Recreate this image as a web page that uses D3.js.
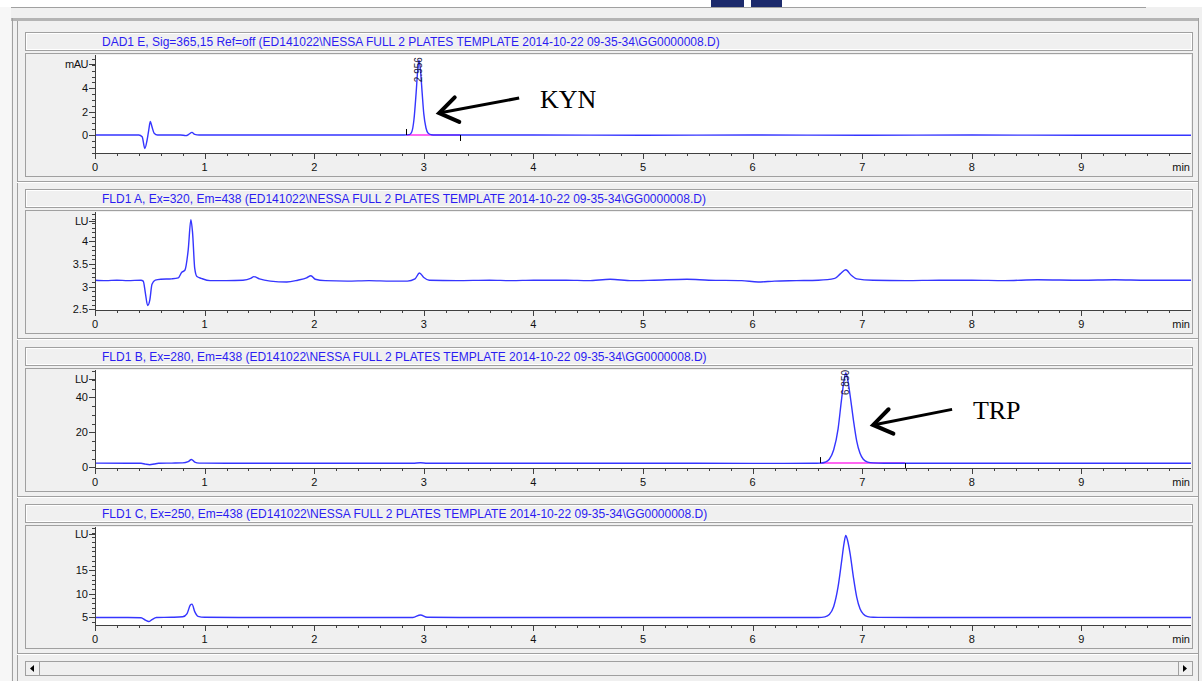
<!DOCTYPE html>
<html>
<head>
<meta charset="utf-8">
<script src="https://cdn.jsdelivr.net/npm/d3@7"></script>
<style>
  body { margin: 0; background: #f0f0f0; }
  svg  { display: block; font-family: "Liberation Sans", Arial, sans-serif; }
</style>
</head>
<body>
<svg width="1202" height="681"></svg>
<script>
// traces, [time (min), response]
const dadE = [[0,0],[0.2,0],[0.40,0],[0.43,-0.15],[0.455,-1.15],[0.475,-0.45],[0.49,0.4],[0.505,1.15],[0.52,0.7],
  [0.54,0.15],[0.57,0],[0.78,0],[0.83,-0.05],[0.855,0.05],[0.885,0.22],[0.91,0.05],[0.95,0],[1.5,0],[2.0,0],[2.5,0],
  [2.82,0],[2.87,0.03],[2.89,0.25],[2.91,1.3],[2.93,3.6],[2.945,5.6],[2.956,6.4],[2.97,5.5],[2.985,3.6],[3.0,1.8],
  [3.02,0.6],[3.04,0.15],[3.07,0.02],[3.1,0],[4,0],[5,-0.02],[6,0],[7,-0.02],[8,0],[9,-0.02],[10,-0.02]];

const fldA = [[0,3.14],[0.1,3.13],[0.2,3.14],[0.3,3.13],[0.42,3.14],[0.44,3.12],[0.46,2.85],[0.48,2.58],[0.50,2.7],
  [0.52,3.05],[0.55,3.14],[0.6,3.16],[0.7,3.17],[0.76,3.19],[0.79,3.31],[0.82,3.36],[0.85,3.8],[0.875,4.48],[0.89,4.2],
  [0.91,3.4],[0.93,3.22],[0.97,3.18],[1.05,3.13],[1.2,3.13],[1.35,3.14],[1.42,3.18],[1.45,3.22],[1.50,3.17],[1.6,3.12],
  [1.75,3.1],[1.85,3.14],[1.93,3.19],[1.97,3.24],[2.01,3.16],[2.1,3.13],[2.3,3.12],[2.5,3.13],[2.7,3.12],[2.85,3.12],
  [2.92,3.17],[2.96,3.3],[3.0,3.2],[3.05,3.14],[3.3,3.13],[3.6,3.14],[3.8,3.13],[4.0,3.14],[4.3,3.14],[4.5,3.13],
  [4.7,3.16],[4.9,3.13],[5.1,3.14],[5.4,3.16],[5.6,3.14],[5.9,3.13],[6.05,3.1],[6.2,3.12],[6.4,3.13],[6.6,3.14],
  [6.75,3.18],[6.8,3.28],[6.85,3.37],[6.9,3.25],[6.95,3.17],[7.1,3.14],[7.4,3.13],[7.7,3.14],[8.0,3.14],[8.3,3.13],
  [8.6,3.15],[9.0,3.14],[9.3,3.15],[9.6,3.14],[10,3.14]];

const fldB = [[0,2.4],[0.3,2.35],[0.42,2.3],[0.46,1.8],[0.5,1.5],[0.54,1.9],[0.58,2.3],[0.7,2.4],[0.8,2.5],[0.85,3.2],
  [0.88,4.5],[0.91,3.0],[0.95,2.4],[1.2,2.3],[1.5,2.3],[2.0,2.35],[2.5,2.3],[2.9,2.3],[2.97,2.6],[3.03,2.3],[3.5,2.3],
  [4,2.3],[5,2.3],[6,2.25],[6.55,2.3],[6.62,2.4],[6.66,2.9],[6.70,4.6],[6.74,10],[6.78,22],[6.81,38],[6.835,50],
  [6.85,53.9],[6.865,51],[6.89,41],[6.92,27],[6.95,15],[6.98,8],[7.01,4.6],[7.05,3.0],[7.1,2.5],[7.2,2.35],[7.5,2.3],
  [8,2.3],[9,2.3],[10,2.3]];

const fldC = [[0,4.95],[0.3,4.95],[0.42,4.9],[0.46,4.4],[0.49,4.1],[0.52,4.5],[0.56,4.95],[0.7,5.0],[0.8,5.1],
  [0.84,5.8],[0.87,7.6],[0.885,7.8],[0.91,6.2],[0.94,5.2],[1.0,5.0],[1.5,4.95],[2.0,4.95],[2.5,4.95],[2.9,4.95],
  [2.97,5.5],[3.03,5.0],[3.5,4.95],[4,4.95],[5,4.95],[6,4.95],[6.6,4.95],[6.66,5.1],[6.70,5.6],[6.74,7.3],[6.78,11.5],
  [6.81,16.5],[6.835,20.8],[6.85,22.4],[6.865,21.5],[6.89,18.5],[6.92,13.5],[6.95,9.3],[6.98,6.8],[7.01,5.7],
  [7.05,5.15],[7.1,5.0],[7.5,4.95],[8,4.95],[9,4.95],[10,4.95]];

const traces  = [dadE, fldA, fldB, fldC];
const path    = "(ED141022\\NESSA FULL 2 PLATES TEMPLATE 2014-10-22 09-35-34\\GG0000008.D)";
const headers = ["DAD1 E, Sig=365,15 Ref=off " + path,
                 "FLD1 A, Ex=320, Em=438 " + path,
                 "FLD1 B, Ex=280, Em=438 " + path,
                 "FLD1 C, Ex=250, Em=438 " + path];
const units      = ["mAU", "LU", "LU", "LU"];
const yDomains   = [[-1.54, 6.84], [2.48, 4.65], [-0.4, 55.6], [3.36, 24.2]];
const yMajor     = [[0, 2, 4], [2.5, 3, 3.5, 4], [0, 20, 40], [5, 10, 15]];
const yMinorStep = [0.5, 0.1, 5, 1];
const unitAt     = [6.05, 4.45, 50.5, 22.8];
const xTickVals  = [0, 1, 2, 3, 4, 5, 6, 7, 8, 9];
const xTickLabels = ["0", "1", "2", "3", "4", "5", "6", "7", "8", "9"];

// integration events: panel, start/end of baseline, level, apex, retention time label
const peaks = [
  {panel: 0, start: 2.84, end: 3.33, level: 0,   apexT: 2.956, apexV: 6.4,  rt: "2.956"},
  {panel: 2, start: 6.615, end: 7.39, level: 2.4, apexT: 6.85, apexV: 53.9, rt: "6.850"}
];
// arrow annotations in data units
const notes = [
  {panel: 0, text: "KYN", tip: [3.14, 1.88], tail: [3.87, 3.16], at: [4.06, 2.3]},
  {panel: 2, text: "TRP", tip: [7.10, 24.2], tail: [7.82, 33.1], at: [8.01, 27.6]}
];

const svg = d3.select("svg");
const W = 1202, H = 681;

const grey  = "#a0a0a0";
const blue  = "#3535ff";

// ---- window chrome
svg.append("rect").attr("width", W).attr("height", H).attr("fill", "#f0f0f0");
svg.append("rect").attr("width", W).attr("height", 7).attr("fill", "#ffffff");
svg.append("rect").attr("x", 0).attr("y", 7).attr("width", 11).attr("height", H).attr("fill", "#f7f7f7");
svg.append("line").attr("x1", 11).attr("x2", 1146).attr("y1", 7.5).attr("y2", 7.5).attr("stroke", grey);
[[711, 33], [751, 31]].forEach(d => {
  svg.append("rect").attr("x", d[0]).attr("y", 0).attr("width", d[1]).attr("height", 7).attr("fill", "#1c2a6c");
});
svg.append("rect").attr("x", 11).attr("y", 18).attr("width", 1188).attr("height", 3).attr("fill", "#b4b4b4");
svg.append("line").attr("x1", 12.5).attr("x2", 12.5).attr("y1", 18).attr("y2", H).attr("stroke", grey);
svg.append("line").attr("x1", 17.5).attr("x2", 17.5).attr("y1", 21).attr("y2", H).attr("stroke", grey);
svg.append("line").attr("x1", 1198.5).attr("x2", 1198.5).attr("y1", 18).attr("y2", H).attr("stroke", grey);

const x = d3.scaleLinear().domain([0, 10]).range([95, 1191]);
const panelTops = [32, 189, 347, 504];

const line = d3.line().curve(d3.curveMonotoneX);

panelTops.forEach(function(top, i) {
  const g = svg.append("g");
  const frameTop = top + 21, plotTop = top + 23, axisY = top + 121, frameBot = top + 144;
  const y = d3.scaleLinear().domain(yDomains[i]).range([axisY, plotTop]);

  // header strip
  g.append("rect").attr("x", 25.5).attr("y", top + 0.5).attr("width", 1167).attr("height", 18)
    .attr("fill", "#f0f0f0").attr("stroke", grey);
  g.append("rect").attr("x", 26.5).attr("y", top + 1.5).attr("width", 1165).attr("height", 16)
    .attr("fill", "none").attr("stroke", "#ffffff");
  g.append("text").attr("x", 102).attr("y", top + 13.5).attr("font-size", 12)
    .attr("fill", "#2b1cf2").text(headers[i]);

  // plot frame
  g.append("rect").attr("x", 25.5).attr("y", frameTop + 0.5).attr("width", 1167).attr("height", frameBot - frameTop)
    .attr("fill", "#f0f0f0").attr("stroke", grey);
  g.append("rect").attr("x", 95).attr("y", plotTop).attr("width", 1096).attr("height", axisY - plotTop)
    .attr("fill", "#ffffff");

  // separator under the panel
  g.append("line").attr("x1", 17).attr("x2", 1198).attr("y1", top + 149.5).attr("y2", top + 149.5)
    .attr("stroke", grey);
  g.append("line").attr("x1", 17).attr("x2", 1198).attr("y1", top + 150.5).attr("y2", top + 150.5)
    .attr("stroke", "#ffffff");

  // integration baseline + event ticks
  peaks.filter(p => p.panel === i).forEach(function(p) {
    g.append("line").attr("x1", x(p.start)).attr("x2", x(p.end))
      .attr("y1", y(p.level)).attr("y2", y(p.level)).attr("stroke", "#ff33ee").attr("stroke-width", 1.5);
  });

  // trace
  g.append("path").datum(traces[i].map(d => [x(d[0]), y(d[1])]))
    .attr("d", line).attr("fill", "none").attr("stroke", blue).attr("stroke-width", 1.4);

  peaks.filter(p => p.panel === i).forEach(function(p) {
    const by = y(p.level);
    g.append("line").attr("x1", Math.round(x(p.start)) + 0.5).attr("x2", Math.round(x(p.start)) + 0.5)
      .attr("y1", by - 6).attr("y2", by).attr("stroke", "#000");
    g.append("line").attr("x1", Math.round(x(p.end)) + 0.5).attr("x2", Math.round(x(p.end)) + 0.5)
      .attr("y1", by).attr("y2", by + 6).attr("stroke", "#000");
    const ax = x(p.apexT), ay = y(p.apexV) - 3;
    g.append("text").attr("transform", `translate(${ax + 3.5},${ay}) rotate(-90)`)
      .attr("text-anchor", "end").attr("font-size", 10).attr("fill", "#1a1a40").text(p.rt);
  });

  // y axis
  const yAxisG = g.append("g").attr("stroke", "#404040");
  yAxisG.append("line").attr("x1", 95.5).attr("x2", 95.5).attr("y1", plotTop).attr("y2", axisY)
    .attr("stroke", "#404040");
  const minor = d3.range(Math.ceil(yDomains[i][0] / yMinorStep[i]), Math.floor(yDomains[i][1] / yMinorStep[i]) + 1)
    .map(k => +(k * yMinorStep[i]).toFixed(4));
  minor.forEach(v => {
    const yy = Math.round(y(v)) + 0.5;
    yAxisG.append("line").attr("x1", 92).attr("x2", 95).attr("y1", yy).attr("y2", yy);
  });
  yMajor[i].concat([unitAt[i]]).forEach(v => {
    const yy = Math.round(y(v)) + 0.5;
    yAxisG.append("line").attr("x1", 89).attr("x2", 95).attr("y1", yy).attr("y2", yy);
  });
  g.selectAll("text.ytick").data(yMajor[i]).enter().append("text")
    .attr("class", "ytick").attr("x", 88).attr("y", v => y(v) + 4)
    .attr("text-anchor", "end").attr("font-size", 11).attr("fill", "#111").text(v => v);
  g.append("text").attr("x", 88).attr("y", y(unitAt[i]) + 4).attr("text-anchor", "end")
    .attr("font-size", 11).attr("fill", "#111").attr("letter-spacing", -0.5).text(units[i]);

  // x axis
  const xAxisG = g.append("g").attr("stroke", "#404040");
  xAxisG.append("line").attr("x1", 95).attr("x2", 1191).attr("y1", axisY + 0.5).attr("y2", axisY + 0.5);
  d3.range(0, 50).forEach(k => {
    const xx = Math.round(x(k * 0.2)) + 0.5;
    const len = k % 5 === 0 ? 6 : 3;
    xAxisG.append("line").attr("x1", xx).attr("x2", xx).attr("y1", axisY).attr("y2", axisY + len);
  });
  g.selectAll("text.xtick").data(xTickVals).enter().append("text")
    .attr("class", "xtick").attr("x", v => x(v)).attr("y", axisY + 18)
    .attr("text-anchor", "middle").attr("font-size", 11).attr("fill", "#111")
    .text((v, k) => xTickLabels[k]);
  g.append("text").attr("x", 1190).attr("y", axisY + 18).attr("text-anchor", "end")
    .attr("font-size", 11).attr("fill", "#111").text("min");

  // annotations
  notes.filter(n => n.panel === i).forEach(function(n) {
    const tx = x(n.tip[0]), ty = y(n.tip[1]);
    const sx = x(n.tail[0]), sy = y(n.tail[1]);
    const ang = Math.atan2(sy - ty, sx - tx);
    const barb = 22, spread = 0.6;
    g.append("line").attr("x1", sx).attr("y1", sy).attr("x2", tx).attr("y2", ty)
      .attr("stroke", "#000").attr("stroke-width", 3);
    g.append("path")
      .attr("d", `M${tx + barb * Math.cos(ang - spread)},${ty + barb * Math.sin(ang - spread)}` +
                 `L${tx},${ty}L${tx + barb * Math.cos(ang + spread)},${ty + barb * Math.sin(ang + spread)}`)
      .attr("fill", "none").attr("stroke", "#000").attr("stroke-width", 4)
      .attr("stroke-linejoin", "miter").attr("stroke-linecap", "round");
    g.append("text").attr("x", x(n.at[0])).attr("y", y(n.at[1]))
      .attr("font-family", "'Liberation Serif', 'Times New Roman', serif")
      .attr("font-size", 26).attr("fill", "#000").text(n.text);
  });
});

// ---- horizontal scrollbar
const sb = svg.append("g");
sb.append("rect").attr("x", 25.5).attr("y", 661.5).attr("width", 1167).attr("height", 14)
  .attr("fill", "#f0f0f0").attr("stroke", grey);
sb.append("line").attr("x1", 39.5).attr("x2", 39.5).attr("y1", 662).attr("y2", 675).attr("stroke", grey);
sb.append("line").attr("x1", 1178.5).attr("x2", 1178.5).attr("y1", 662).attr("y2", 675).attr("stroke", grey);
sb.append("path").attr("d", "M30,668.5L34,665L34,672Z").attr("fill", "#000");
sb.append("path").attr("d", "M1187,668.5L1183,665L1183,672Z").attr("fill", "#000");
</script>
</body>
</html>
